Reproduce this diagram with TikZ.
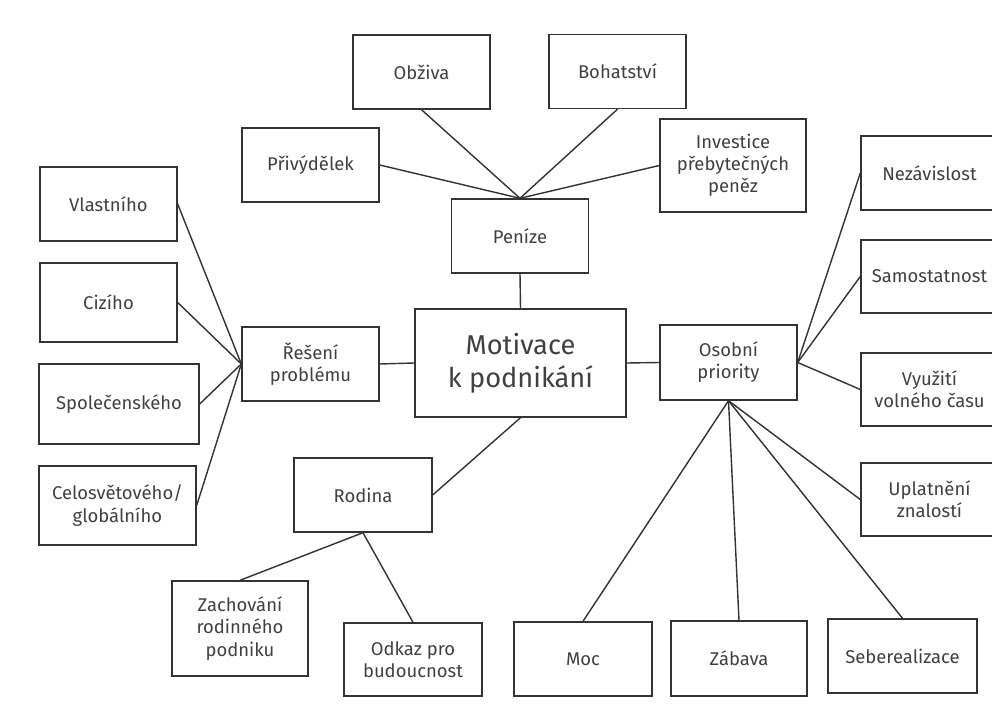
\documentclass[tikz,border=0pt]{standalone}
\usepackage{fontspec}
\setmainfont{Fira Sans}
\begin{document}
\begin{tikzpicture}[x=0.02cm, y=-0.02cm,
  box/.style={draw=black!80, line width=0.8pt, text=black!75, align=center,
    inner sep=1pt, minimum width=2.74cm, minimum height=1.48cm,
    font=\fontsize{10.5}{12.6}\selectfont},
  link/.style={draw=black!80, line width=0.8pt}]
  \useasboundingbox (0,0) rectangle (992,713);
  % hlavni uzel
  \node[box, minimum width=4.22cm, minimum height=2.16cm,
    font=\fontsize{15.5}{18.8}\selectfont] (mot) at (520.5,363) {Motivace\\k podnikání};
  % penize
  \node[box] (pen) at (520,236) {Peníze};
  \node[box] (obz) at (421.5,72) {Obživa};
  \node[box] (boh) at (617.5,71.5) {Bohatství};
  \node[box] (pri) at (310.5,165) {Přivýdělek};
  \node[box, minimum width=2.92cm, minimum height=1.86cm] (inv) at (733,165.5) {Investice\\přebytečných\\peněz};
  % reseni problemu
  \node[box] (res) at (310.5,364) {Řešení\\problému};
  \node[box] (vla) at (108.5,204) {Vlastního};
  \node[box, minimum height=1.58cm] (ciz) at (108.5,302.5) {Cizího};
  \node[box, minimum width=3.2cm, minimum height=1.6cm] (spo) at (119,404) {Společenského};
  \node[box, minimum width=3.14cm, minimum height=1.58cm] (cel) at (117.5,505.5) {Celosvětového/\\globálního};
  % rodina
  \node[box, minimum width=2.76cm] (rod) at (363,495) {Rodina};
  \node[box, minimum width=2.72cm, minimum height=1.9cm] (zac) at (240,628.5) {Zachování\\rodinného\\podniku};
  \node[box, minimum width=2.76cm, minimum height=1.46cm] (odk) at (413,659.5) {Odkaz pro\\budoucnost};
  % osobni priority
  \node[box, minimum height=1.5cm] (oso) at (728.5,362.5) {Osobní\\priority};
  \node[box] (nez) at (929.5,173) {Nezávislost};
  \node[box, minimum height=1.46cm] (sam) at (929.5,276.5) {Samostatnost};
  \node[box, minimum height=1.46cm] (vyu) at (929.5,389.5) {Využití\\volného času};
  \node[box, minimum height=1.46cm] (upl) at (929.5,499.5) {Uplatnění\\znalostí};
  \node[box, minimum width=2.76cm] (moc) at (583,659) {Moc};
  \node[box, minimum width=2.72cm, minimum height=1.5cm] (zab) at (739,658.5) {Zábava};
  \node[box, minimum width=2.98cm] (seb) at (902.5,656) {Seberealizace};

  \draw[link] (pen.south) -- (mot.north);
  \draw[link] (res.east) -- (mot.west);
  \draw[link] (mot.east) -- (oso.west);
  \draw[link] (mot.south) -- (rod.east);

  \draw[link] (pen.north) -- (obz.south);
  \draw[link] (pen.north) -- (boh.south);
  \draw[link] (pen.north) -- (pri.east);
  \draw[link] (pen.north) -- (inv.west);

  \foreach \n in {vla,ciz,spo,cel}
    \draw[link] (res.west) -- (\n.east);

  \draw[link] (rod.south) -- (zac.north);
  \draw[link] (rod.south) -- (odk.north);

  \foreach \n in {nez,sam,vyu}
    \draw[link] (oso.east) -- (\n.west);
  \draw[link] (oso.south) -- (upl.west);
  \foreach \n in {moc,zab,seb}
    \draw[link] (oso.south) -- (\n.north);
\end{tikzpicture}
\end{document}
